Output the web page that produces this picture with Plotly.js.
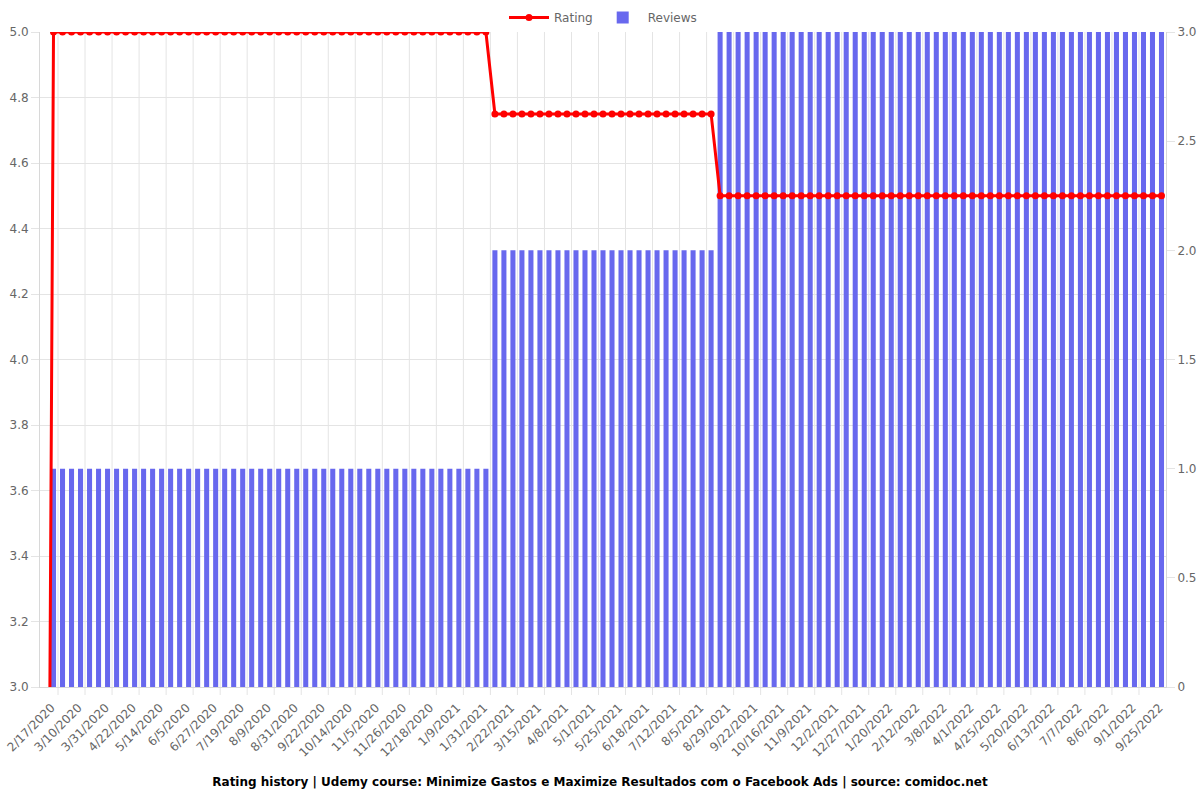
<!DOCTYPE html>
<html>
<head>
<meta charset="utf-8">
<script src="https://cdn.plot.ly/plotly-3.0.1.min.js"></script>
<style>html,body{margin:0;padding:0;background:#fff;}#chart{width:1200px;height:800px;}</style>
</head>
<body>
<div id="chart"></div>
<script>
// Categories (dates), one per bar/point
const dates = [
 "2/17/2020","2/24/2020","3/2/2020","3/10/2020","3/17/2020","3/24/2020","3/31/2020","4/7/2020","4/14/2020",
 "4/22/2020","4/29/2020","5/6/2020","5/14/2020","5/21/2020","5/28/2020","6/5/2020","6/12/2020","6/19/2020",
 "6/27/2020","7/4/2020","7/11/2020","7/19/2020","7/26/2020","8/2/2020","8/9/2020","8/16/2020","8/23/2020",
 "8/31/2020","9/7/2020","9/14/2020","9/22/2020","9/29/2020","10/6/2020","10/14/2020","10/21/2020","10/28/2020",
 "11/5/2020","11/12/2020","11/19/2020","11/26/2020","12/3/2020","12/10/2020","12/18/2020","12/25/2020","1/1/2021",
 "1/9/2021","1/16/2021","1/23/2021","1/31/2021","2/7/2021","2/14/2021","2/22/2021","3/1/2021","3/8/2021",
 "3/15/2021","3/23/2021","3/31/2021","4/8/2021","4/16/2021","4/23/2021","5/1/2021","5/9/2021","5/17/2021",
 "5/25/2021","6/2/2021","6/10/2021","6/18/2021","6/26/2021","7/4/2021","7/12/2021","7/20/2021","7/28/2021",
 "8/5/2021","8/13/2021","8/21/2021","8/29/2021","9/6/2021","9/14/2021","9/22/2021","9/30/2021","10/8/2021",
 "10/16/2021","10/24/2021","11/1/2021","11/9/2021","11/17/2021","11/25/2021","12/2/2021","12/10/2021","12/18/2021",
 "12/27/2021","1/4/2022","1/12/2022","1/20/2022","1/28/2022","2/5/2022","2/12/2022","2/20/2022","2/28/2022",
 "3/8/2022","3/16/2022","3/24/2022","4/1/2022","4/9/2022","4/17/2022","4/25/2022","5/3/2022","5/11/2022",
 "5/20/2022","5/28/2022","6/5/2022","6/13/2022","6/21/2022","6/29/2022","7/7/2022","7/17/2022","7/27/2022",
 "8/6/2022","8/15/2022","8/24/2022","9/1/2022","9/9/2022","9/17/2022","9/25/2022","10/3/2022"
];

// Rating series (left axis)
const rating = [
 0,
 5,5,5,5,5,5,5,5,5,5,5,5,5,5,5,5,5,5,5,5,5,5,5,5,5,5,5,5,5,5,5,5,5,5,5,5,5,5,5,5,5,5,5,5,5,5,5,5,5,
 4.75,4.75,4.75,4.75,4.75,4.75,4.75,4.75,4.75,4.75,4.75,4.75,4.75,4.75,4.75,4.75,4.75,4.75,4.75,4.75,4.75,4.75,4.75,4.75,4.75,
 4.5,4.5,4.5,4.5,4.5,4.5,4.5,4.5,4.5,4.5,4.5,4.5,4.5,4.5,4.5,4.5,4.5,4.5,4.5,4.5,4.5,4.5,4.5,4.5,4.5,
 4.5,4.5,4.5,4.5,4.5,4.5,4.5,4.5,4.5,4.5,4.5,4.5,4.5,4.5,4.5,4.5,4.5,4.5,4.5,4.5,4.5,4.5,4.5,4.5,4.5
];

// Reviews series (right axis)
const reviews = [
 0,
 1,1,1,1,1,1,1,1,1,1,1,1,1,1,1,1,1,1,1,1,1,1,1,1,1,1,1,1,1,1,1,1,1,1,1,1,1,1,1,1,1,1,1,1,1,1,1,1,1,
 2,2,2,2,2,2,2,2,2,2,2,2,2,2,2,2,2,2,2,2,2,2,2,2,2,
 3,3,3,3,3,3,3,3,3,3,3,3,3,3,3,3,3,3,3,3,3,3,3,3,3,
 3,3,3,3,3,3,3,3,3,3,3,3,3,3,3,3,3,3,3,3,3,3,3,3,3
];

// Tick labels shown on the x axis
const xTickLabels = [
 "2/17/2020","3/10/2020","3/31/2020","4/22/2020","5/14/2020","6/5/2020","6/27/2020","7/19/2020","8/9/2020",
 "8/31/2020","9/22/2020","10/14/2020","11/5/2020","11/26/2020","12/18/2020","1/9/2021","1/31/2021","2/22/2021",
 "3/15/2021","4/8/2021","5/1/2021","5/25/2021","6/18/2021","7/12/2021","8/5/2021","8/29/2021","9/22/2021",
 "10/16/2021","11/9/2021","12/2/2021","12/27/2021","1/20/2022","2/12/2022","3/8/2022","4/1/2022","4/25/2022",
 "5/20/2022","6/13/2022","7/7/2022","8/6/2022","9/1/2022","9/25/2022"
];
const reviewTickVals = [0, 0.5, 1, 1.5, 2, 2.5, 3];
const reviewTickText = ["0", "0.5", "1.0", "1.5", "2.0", "2.5", "3.0"];

const titleText = "Rating history | Udemy course: Minimize Gastos e Maximize Resultados com o Facebook Ads | source: comidoc.net";

const font = "DejaVu Sans, sans-serif";
const gridColor = "#e4e4e4";
const plotH = 800 - 32 - 113;

// vertical grid lines + small tick marks midway between labeled ticks (Chart.js offset-grid style)
const shapes = [];
xTickLabels.forEach(function (lab, k) {
  if (k === 0) return;
  const gx = dates.indexOf(lab) - 1.5;
  shapes.push({ type: "line", xref: "x", yref: "paper", x0: gx, x1: gx, y0: -8 / plotH, y1: 1,
                line: { color: gridColor, width: 1 }, layer: "below" });
});
shapes.push({ type: "line", xref: "paper", yref: "y2", x0: 0, x1: 1, y0: 4, y1: 4,
              line: { color: "#cccccc", width: 1 }, layer: "below" });

const traces = [
  {
    type: "scatter", mode: "lines+markers", name: "Rating",
    x: dates, y: rating, yaxis: "y2",
    line: { color: "#ff0000", width: 3 },
    marker: { color: "#ff0000", size: 7 },
    cliponaxis: true
  },
  {
    type: "bar", name: "Reviews",
    x: dates, y: reviews, yaxis: "y",
    marker: { color: "#6868ee" }
  }
];

const layout = {
  width: 1200, height: 800,
  margin: { l: 40, r: 34, t: 32, b: 113, autoexpand: false },
  paper_bgcolor: "#ffffff", plot_bgcolor: "#ffffff",
  font: { family: font, size: 12, color: "#666666" },
  showlegend: true,
  legend: { orientation: "h", x: 0.5, xanchor: "center", y: 1.0, yanchor: "bottom",
            font: { family: font, size: 12, color: "#666666" }, traceorder: "normal",
            itemwidth: 40 },
  bargap: 0.44,
  title: { text: "<b>" + titleText + "</b>", x: 0.5, xanchor: "center", y: 0.0225, yanchor: "middle",
           font: { family: font, size: 12, color: "#000000" } },
  xaxis: {
    type: "category", categoryorder: "array", categoryarray: dates,
    range: [-0.5, dates.length - 0.5],
    tickmode: "array", tickvals: xTickLabels, ticktext: xTickLabels,
    tickangle: -45, ticks: "", showgrid: false, zeroline: false,
    ticklabelstandoff: 8, ticklabelshift: 7,
    showline: true, linecolor: "#d8d8d8", linewidth: 1,
    tickfont: { family: font, size: 12, color: "#666666" }
  },
  // reviews axis (right)
  yaxis: {
    side: "right", range: [0, 3],
    tickmode: "array", tickvals: reviewTickVals, ticktext: reviewTickText,
    ticks: "outside", ticklen: 8, tickcolor: gridColor,
    showgrid: false, zeroline: false,
    showline: true, linecolor: "#d8d8d8",
    tickfont: { family: font, size: 12, color: "#666666" }
  },
  // rating axis (left), overlaid so the line sits above the bars
  yaxis2: {
    overlaying: "y", side: "left", range: [3, 5], dtick: 0.2, tick0: 3, tickformat: ".1f",
    ticks: "outside", ticklen: 8, tickcolor: gridColor,
    showgrid: true, gridcolor: gridColor, zeroline: false,
    showline: true, linecolor: "#d8d8d8",
    tickfont: { family: font, size: 12, color: "#666666" }
  },
  shapes: shapes
};

Plotly.newPlot("chart", traces, layout, { displayModeBar: false, staticPlot: true });
</script>
</body>
</html>
